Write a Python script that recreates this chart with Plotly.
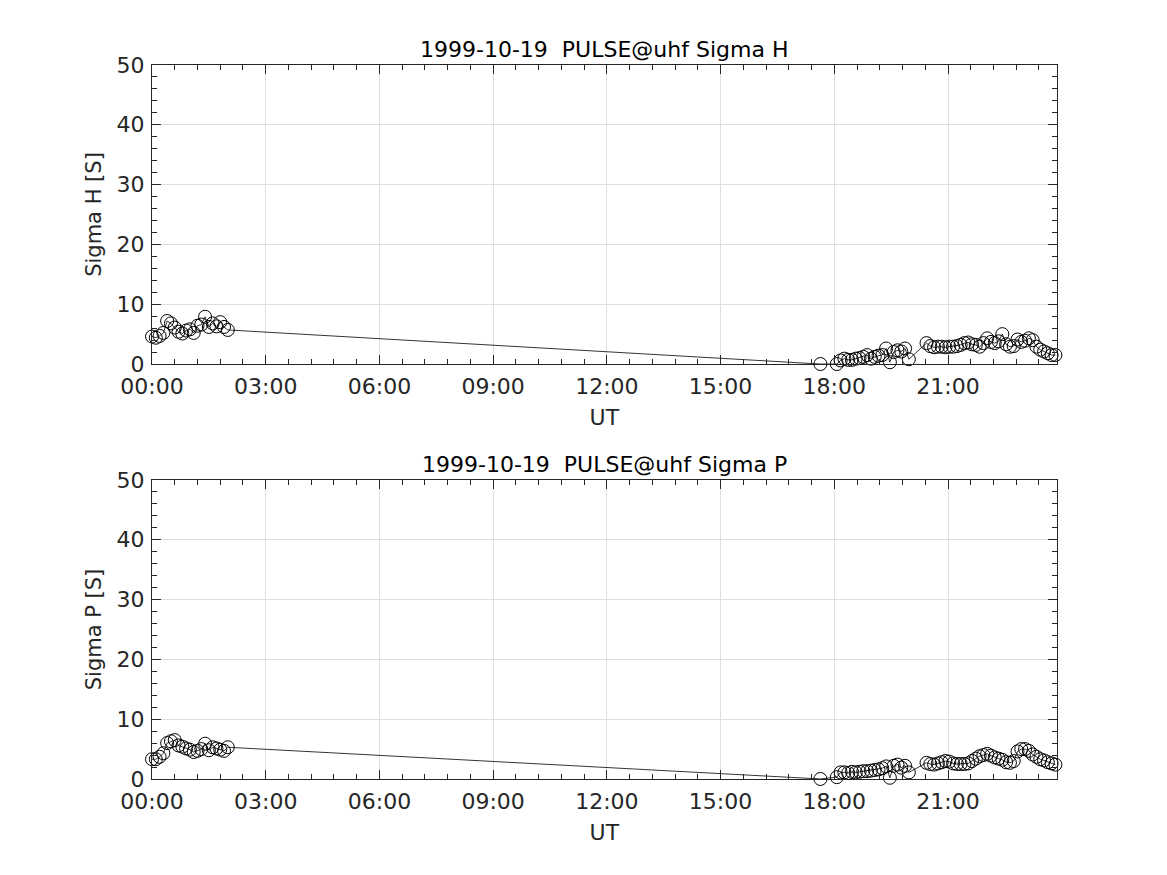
import plotly.graph_objects as go

date = "1999-10-19"
times = ["00:00", "00:06", "00:12", "00:18", "00:24", "00:30", "00:36", "00:42", "00:48", "00:54",
         "01:00", "01:06", "01:12", "01:18", "01:24", "01:30", "01:36", "01:42", "01:48", "01:54", "02:00",
         "17:38",
         "18:04", "18:10", "18:16", "18:22", "18:28", "18:34", "18:40", "18:46", "18:52", "18:58",
         "19:04", "19:10", "19:16", "19:22", "19:28", "19:34", "19:40", "19:46", "19:52", "19:58",
         "20:26", "20:32", "20:38", "20:44", "20:50", "20:56", "21:02", "21:08", "21:14", "21:20",
         "21:26", "21:32", "21:38", "21:44", "21:50", "21:56", "22:02", "22:08", "22:14", "22:20",
         "22:26", "22:32", "22:38", "22:44", "22:50", "22:56", "23:02", "23:08", "23:14", "23:20",
         "23:26", "23:32", "23:38", "23:44", "23:50"]

sigma_h = [4.6, 4.4, 4.7, 5.2, 7.2, 6.8, 6.1, 5.4, 5.1, 5.6, 5.8, 5.2, 6.4, 6.6, 7.9, 6.2, 6.8, 6.3, 7.0, 6.2, 5.7,
           0.0,
           0.0, 0.6, 0.9, 0.7, 0.7, 0.9, 1.0, 1.2, 1.5, 0.9, 1.2, 1.4, 1.5, 2.6, 0.3, 2.0, 2.3, 2.1, 2.6, 0.8,
           3.5, 3.0, 2.8, 2.9, 2.9, 2.8, 2.9, 2.9, 3.0, 3.2, 3.5, 3.6, 3.3, 3.2, 2.9, 3.5, 4.3, 3.7, 3.5, 3.8,
           5.0, 3.3, 2.9, 3.0, 4.1, 3.7, 3.9, 4.3, 4.0, 2.9, 2.4, 2.1, 1.8, 1.5, 1.5]

sigma_p = [3.3, 3.3, 3.7, 4.3, 6.0, 6.3, 6.5, 5.6, 5.4, 5.1, 4.9, 4.5, 4.7, 5.0, 5.9, 4.8, 5.3, 5.1, 4.9, 4.7, 5.3,
           0.0,
           0.3, 1.1, 1.1, 1.0, 1.2, 1.1, 1.2, 1.3, 1.3, 1.4, 1.5, 1.6, 1.8, 2.1, 0.2, 2.2, 2.4, 1.9, 2.2, 1.1,
           2.7, 2.5, 2.4, 2.6, 2.8, 3.0, 2.9, 2.6, 2.5, 2.5, 2.5, 2.6, 3.0, 3.4, 3.8, 4.0, 4.2, 3.9, 3.6, 3.4,
           3.2, 2.8, 2.7, 3.0, 4.6, 5.0, 5.0, 4.7, 4.1, 3.7, 3.3, 3.1, 2.8, 2.6, 2.4]

titles = ["1999-10-19  PULSE@uhf Sigma H", "1999-10-19  PULSE@uhf Sigma P"]
ylabels = ["Sigma H [S]", "Sigma P [S]"]
x_tick_labels = ["00:00", "03:00", "06:00", "09:00", "12:00", "15:00", "18:00", "21:00"]
x_tick_vals = [f"{date} {t}" for t in x_tick_labels]

x = [f"{date} {t}" for t in times]

FONT = "DejaVu Sans"
TXT = "#262626"
GRID = "#dfdfdf"

fig = go.Figure()
for i, ys in enumerate([sigma_h, sigma_p]):
    xa = "x" if i == 0 else "x2"
    ya = "y" if i == 0 else "y2"
    fig.add_trace(go.Scatter(
        x=x, y=ys, mode="lines+markers", xaxis=xa, yaxis=ya,
        line=dict(color="black", width=0.8),
        marker=dict(symbol="circle-open", size=13, color="black", line=dict(width=1, color="black")),
        cliponaxis=False, showlegend=False))

xdom = [0.1234, 0.8986]
ydoms = [[0.5931, 0.9349], [0.1189, 0.4606]]

def xaxis_cfg(anchor):
    return dict(
        domain=xdom, anchor=anchor, type="date", automargin=False,
        range=[f"{date} 00:00", f"{date} 23:52"],
        tickmode="array", tickvals=x_tick_vals, ticktext=x_tick_labels,
        ticks="inside", ticklen=9, tickwidth=1, tickcolor=TXT,
        showline=True, linecolor=TXT, linewidth=1, mirror="allticks",
        showgrid=True, gridcolor=GRID, gridwidth=1, zeroline=False,
        tickfont=dict(family=FONT, size=22, color=TXT), ticklabelstandoff=3,
        title=dict(text="UT", font=dict(family=FONT, size=22, color=TXT), standoff=11),
        minor=dict(ticks="inside", ticklen=5, tickcolor=TXT, dtick=36 * 60 * 1000,
                   tick0=f"{date} 00:00", showgrid=False),
    )

def yaxis_cfg(anchor, dom, label):
    return dict(
        domain=dom, anchor=anchor, range=[0, 50], automargin=False,
        tickmode="linear", tick0=0, dtick=10,
        ticks="inside", ticklen=9, tickwidth=1, tickcolor=TXT,
        showline=True, linecolor=TXT, linewidth=1, mirror="allticks",
        showgrid=True, gridcolor=GRID, gridwidth=1, zeroline=False,
        tickfont=dict(family=FONT, size=22, color=TXT), ticklabelstandoff=2,
        title=dict(text=label, font=dict(family=FONT, size=21, color=TXT), standoff=9),
        minor=dict(ticks="inside", ticklen=5, tickcolor=TXT, dtick=2, showgrid=False),
    )

fig.update_layout(
    width=1167, height=875,
    margin=dict(l=0, r=0, t=0, b=0),
    paper_bgcolor="white", plot_bgcolor="white",
    xaxis=xaxis_cfg("y"),
    yaxis=yaxis_cfg("x", ydoms[0], ylabels[0]),
    xaxis2=xaxis_cfg("y2"),
    yaxis2=yaxis_cfg("x2", ydoms[1], ylabels[1]),
)

for i, t in enumerate(titles):
    fig.add_annotation(
        text=t, xref="paper", yref="paper",
        x=(xdom[0] + xdom[1]) / 2, y=ydoms[i][1],
        xanchor="center", yanchor="bottom", yshift=1, showarrow=False,
        font=dict(family=FONT, size=22, color="black"))

fig.write_html("out.html")
